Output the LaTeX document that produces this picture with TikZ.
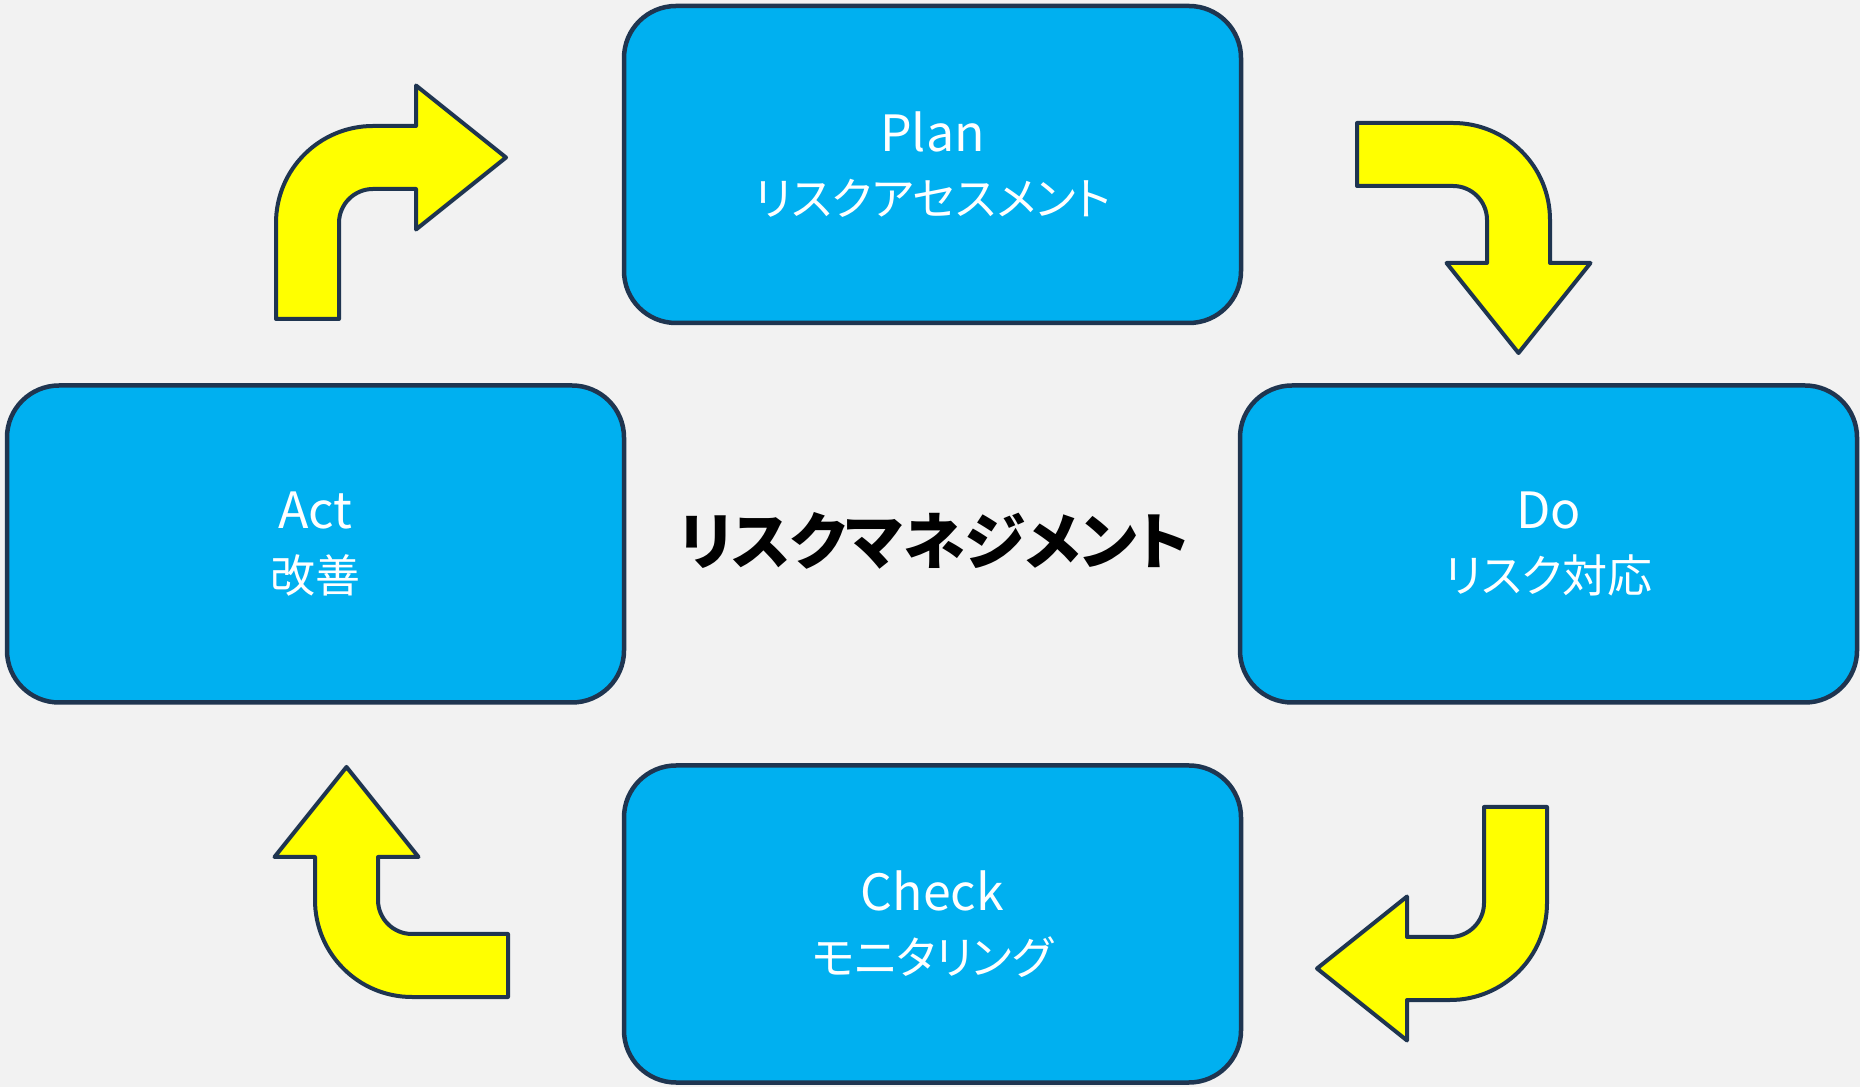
\documentclass[tikz,border=0pt]{standalone}
\usepackage{fontspec}
\newfontfamily\jp{Noto Sans CJK JP}
\newfontfamily\jpp[RawFeature=+palt]{Noto Sans CJK JP}
\definecolor{bg}{HTML}{F2F2F2}
\definecolor{boxfill}{HTML}{00B0F0}
\definecolor{navy}{HTML}{1F3550}
\definecolor{arrowfill}{HTML}{FFFF00}
\tikzset{
  phasebox/.style={draw=navy, line width=4.5pt, fill=boxfill, rounded corners=52pt,
    minimum width=617pt, minimum height=317pt, inner sep=0pt, align=center,
    text=white, font=\jpp\fontsize{45}{64}\selectfont},
  arrowstyle/.style={draw=navy, fill=arrowfill, line width=4pt, line join=round},
  bentarrow/.pic={
    \path[arrowstyle] (-97pt,-96pt) -- (-34pt,-96pt) -- (-34pt,0pt)
      arc[start angle=180,end angle=90,radius=34pt] -- (43pt,34pt) -- (43pt,-6.5pt)
      -- (133pt,65.5pt) -- (43pt,137.5pt) -- (43pt,97pt) -- (0pt,97pt)
      arc[start angle=90,end angle=180,radius=97pt] -- cycle;
  }
}
\newcommand{\lat}[1]{{\jp\fontsize{50}{64}\selectfont #1}}
\begin{document}
\begin{tikzpicture}[x=1pt,y=1pt]
\fill[bg] (0,0) rectangle (1860,1087);
\useasboundingbox (0,0) rectangle (1860,1087);
\node[phasebox] (plan) at (932.5,922.5) {\lat{Plan}\\リスクアセスメント};
\node[phasebox] (act) at (315.5,543) {\lat{Act}\\改善};
\node[phasebox] (do) at (1548.5,543) {\lat{Do}\\リスク対応};
\node[phasebox] (check) at (932.5,163) {\lat{Check}\\モニタリング};
\node[font=\jpp\bfseries\fontsize{62}{64}\selectfont, text=black] (title) at (934,546) {リスクマネジメント};
\pic (arrowa) at (373,864) {bentarrow};
\pic[rotate=-90] (arrowb) at (1453,867) {bentarrow};
\pic[rotate=180] (arrowc) at (1450,184) {bentarrow};
\pic[rotate=90] (arrowd) at (412,187) {bentarrow};
\end{tikzpicture}
\end{document}
